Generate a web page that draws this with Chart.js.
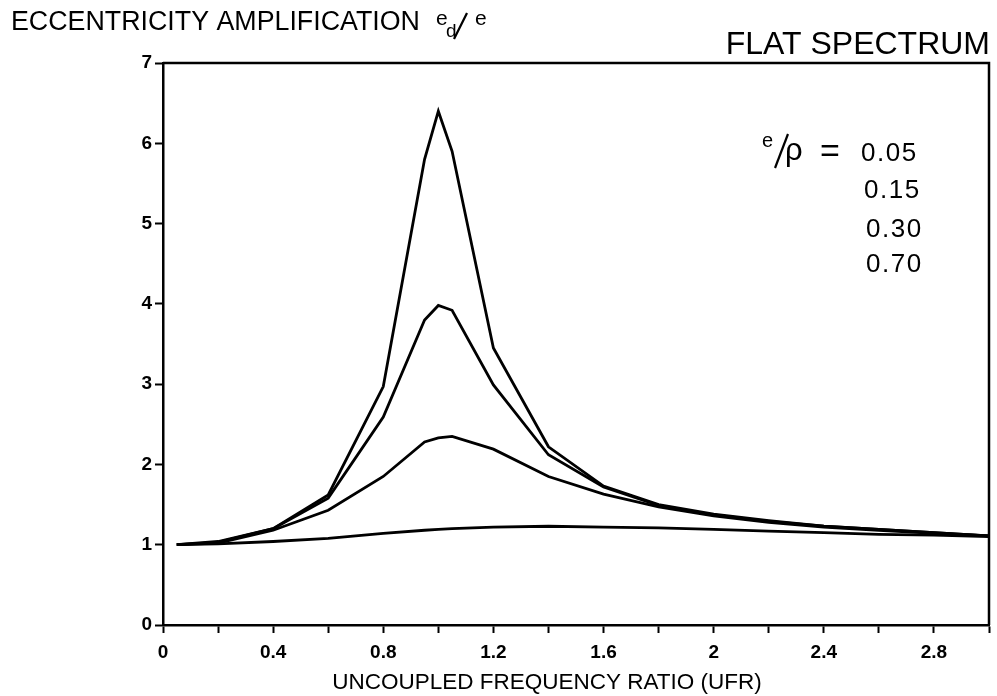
<!DOCTYPE html>
<html>
<head>
<meta charset="utf-8">
<script src="https://cdn.jsdelivr.net/npm/chart.js@4.4.1/dist/chart.umd.min.js"></script>
<style>
  html, body { margin: 0; padding: 0; background: #fff; }
  #wrap { width: 997px; height: 696px; }
</style>
</head>
<body>
<div id="wrap"><canvas id="c" width="997" height="696"></canvas></div>
<script>
// ---- data ----
const ufr = [0.05, 0.2, 0.4, 0.6, 0.8, 0.95, 1.0, 1.05, 1.2, 1.4, 1.6, 1.8, 2.0, 2.2, 2.4, 2.6, 2.8, 3.0];
const amp005 = [1.0, 1.04, 1.2, 1.62, 2.97, 5.8, 6.4, 5.9, 3.45, 2.22, 1.73, 1.5, 1.38, 1.3, 1.23, 1.19, 1.15, 1.11];
const amp015 = [1.0, 1.03, 1.2, 1.58, 2.59, 3.8, 3.98, 3.92, 2.99, 2.12, 1.72, 1.49, 1.37, 1.29, 1.23, 1.19, 1.15, 1.11];
const amp030 = [1.0, 1.02, 1.18, 1.43, 1.85, 2.28, 2.33, 2.35, 2.19, 1.85, 1.63, 1.47, 1.36, 1.28, 1.22, 1.18, 1.14, 1.11];
const amp070 = [1.0, 1.01, 1.04, 1.08, 1.14, 1.18, 1.19, 1.2, 1.22, 1.23, 1.22, 1.21, 1.19, 1.17, 1.15, 1.13, 1.12, 1.1];
const ratioLabels = ['0.05', '0.15', '0.30', '0.70'];
const xTickValues = [0, 0.4, 0.8, 1.2, 1.6, 2, 2.4, 2.8];
const xTickLabels = ['0', '0.4', '0.8', '1.2', '1.6', '2', '2.4', '2.8'];
const yTickLabels = ['0', '1', '2', '3', '4', '5', '6', '7'];
const titleText = 'ECCENTRICITY AMPLIFICATION';
const xAxisTitle = 'UNCOUPLED FREQUENCY RATIO (UFR)';
const spectrumText = 'FLAT SPECTRUM';

const series = [amp005, amp015, amp030, amp070];
const datasets = series.map((ys, k) => ({
  label: 'e/ρ = ' + ratioLabels[k],
  data: ufr.map((x, i) => ({ x: x, y: ys[i] })),
  borderColor: '#000',
  borderWidth: 2.8,
  pointRadius: 0,
  tension: 0,
  fill: false
}));

const FONT = '"Liberation Sans", Arial, sans-serif';

const decor = {
  id: 'decor',
  afterDraw(chart) {
    const ctx = chart.ctx;
    const a = chart.chartArea;
    ctx.save();
    // frame (top & right)
    ctx.strokeStyle = '#000';
    ctx.lineWidth = 2.5;
    ctx.beginPath();
    ctx.moveTo(a.left, a.top);
    ctx.lineTo(a.right, a.top);
    ctx.lineTo(a.right, a.bottom);
    ctx.stroke();

    ctx.fillStyle = '#000';
    ctx.textBaseline = 'alphabetic';
    // main title
    ctx.textAlign = 'left';
    ctx.font = '26.8px ' + FONT;
    ctx.fillText(titleText, 11, 30);
    // e_d / e
    ctx.font = '21px ' + FONT;
    ctx.fillText('e', 436, 25);
    ctx.font = '19px ' + FONT;
    ctx.fillText('d', 446, 37);
    ctx.lineWidth = 2.2;
    ctx.beginPath();
    ctx.moveTo(454, 39);
    ctx.lineTo(467, 13);
    ctx.stroke();
    ctx.font = '21px ' + FONT;
    ctx.fillText('e', 475, 25);

    // FLAT SPECTRUM
    ctx.textAlign = 'right';
    ctx.font = '32px ' + FONT;
    ctx.fillText(spectrumText, 990, 54);

    // legend text
    ctx.textAlign = 'left';
    ctx.font = '20px ' + FONT;
    ctx.fillText('e', 762, 147);
    ctx.lineWidth = 2.2;
    ctx.beginPath();
    ctx.moveTo(775, 168);
    ctx.lineTo(788, 134);
    ctx.stroke();
    ctx.font = '31px ' + FONT;
    ctx.fillText('ρ', 785, 160);
    ctx.font = '34px ' + FONT;
    ctx.fillText('=', 820, 162);
    const lx = [861, 864, 866, 866];
    const ly = [161, 198, 237, 272];
    ratioLabels.forEach((t, i) => {
      ctx.font = '26px ' + FONT;
      if ('letterSpacing' in ctx) ctx.letterSpacing = '1.5px';
      ctx.fillText(t, lx[i], ly[i]);
      if ('letterSpacing' in ctx) ctx.letterSpacing = '0px';
    });

    // x axis title
    ctx.textAlign = 'center';
    ctx.font = '22.5px ' + FONT;
    ctx.fillText(xAxisTitle, 547, 689);
    ctx.restore();
  }
};

new Chart(document.getElementById('c'), {
  type: 'line',
  data: { datasets: datasets },
  options: {
    responsive: false,
    animation: false,
    devicePixelRatio: 1,
    layout: { padding: { left: 0, right: 5, top: 63, bottom: 0 } },
    plugins: { legend: { display: false }, tooltip: { enabled: false }, title: { display: false } },
    scales: {
      x: {
        type: 'linear',
        min: 0,
        max: 3,
        afterFit(s) { s.height = 71; },
        afterBuildTicks(s) {
          const t = [];
          for (let k = 0; k <= 15; k++) t.push({ value: k * 0.2 });
          s.ticks = t;
        },
        ticks: {
          autoSkip: false,
          maxRotation: 0,
          padding: 8,
          color: '#000',
          font: { family: FONT, size: 19, weight: 'bold' },
          callback(v) {
            const i = xTickValues.findIndex(t => Math.abs(t - v) < 1e-6);
            return i >= 0 ? xTickLabels[i] : '';
          }
        },
        grid: { display: true, drawOnChartArea: false, drawTicks: true, tickLength: 8, tickWidth: 2, tickColor: '#000' },
        border: { display: true, color: '#000', width: 2.5 }
      },
      y: {
        type: 'linear',
        min: 0,
        max: 7,
        afterFit(s) { s.width = 163; },
        ticks: {
          stepSize: 1,
          padding: 3,
          color: '#000',
          font: { family: FONT, size: 19, weight: 'bold' },
          callback(v) { return yTickLabels[Math.round(v)] ?? ''; }
        },
        grid: { display: true, drawOnChartArea: false, drawTicks: true, tickLength: 8, tickWidth: 2, tickColor: '#000' },
        border: { display: true, color: '#000', width: 2.5 }
      }
    }
  },
  plugins: [decor]
});
</script>
</body>
</html>
